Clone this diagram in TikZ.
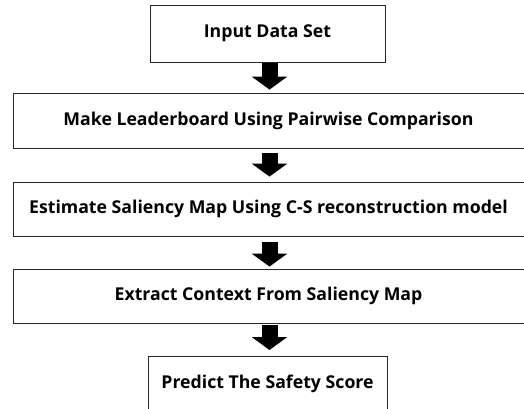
\documentclass[tikz,border=0pt]{standalone}
\usepackage{fontspec}
\setmainfont{Open Sans}
\usetikzlibrary{arrows.meta}
\tikzset{
  box/.style={draw=black!85, line width=0.8pt, fill=white, inner sep=0pt, font=\bfseries\fontsize{17.7}{20}\selectfont},
  flow/.style={line width=16pt, -{Triangle[width=35pt,length=13pt]}, black}
}
\begin{document}
\begin{tikzpicture}[x=1pt,y=1pt]
\useasboundingbox (0,0) rectangle (524,-409);
\clip (0,0) rectangle (524,-409);
\node[box, minimum width=235pt, minimum height=57pt] (b1) at (267.5,-33.5) {Input Data Set};
\node[box, minimum width=513pt, minimum height=55pt] (b2) at (269.5,-120.5) {\hspace*{-2pt}Make Leaderboard Using Pairwise Comparison};
\node[box, minimum width=513pt, minimum height=54pt] (b3) at (269.5,-209) {\hspace*{-2pt}Estimate Saliency Map Using C-S reconstruction model};
\node[box, minimum width=513pt, minimum height=54pt] (b4) at (269.5,-296) {\hspace*{-2pt}Extract Context From Saliency Map};
\node[box, minimum width=239pt, minimum height=54pt, anchor=north] (b5) at (267.5,-356) {Predict The Safety Score};
\draw[flow, shorten <=1pt, shorten >=3pt] (b1.south -| b2.north) -- (b2.north);
\draw[flow, shorten <=5pt, shorten >=5pt] (b2.south) -- (b3.north);
\draw[flow, shorten <=6pt, shorten >=2pt] (b3.south) -- (b4.north);
\draw[flow, shorten <=2pt, shorten >=6pt] (b4.south) -- (b5.north -| b4.south);
\end{tikzpicture}
\end{document}
